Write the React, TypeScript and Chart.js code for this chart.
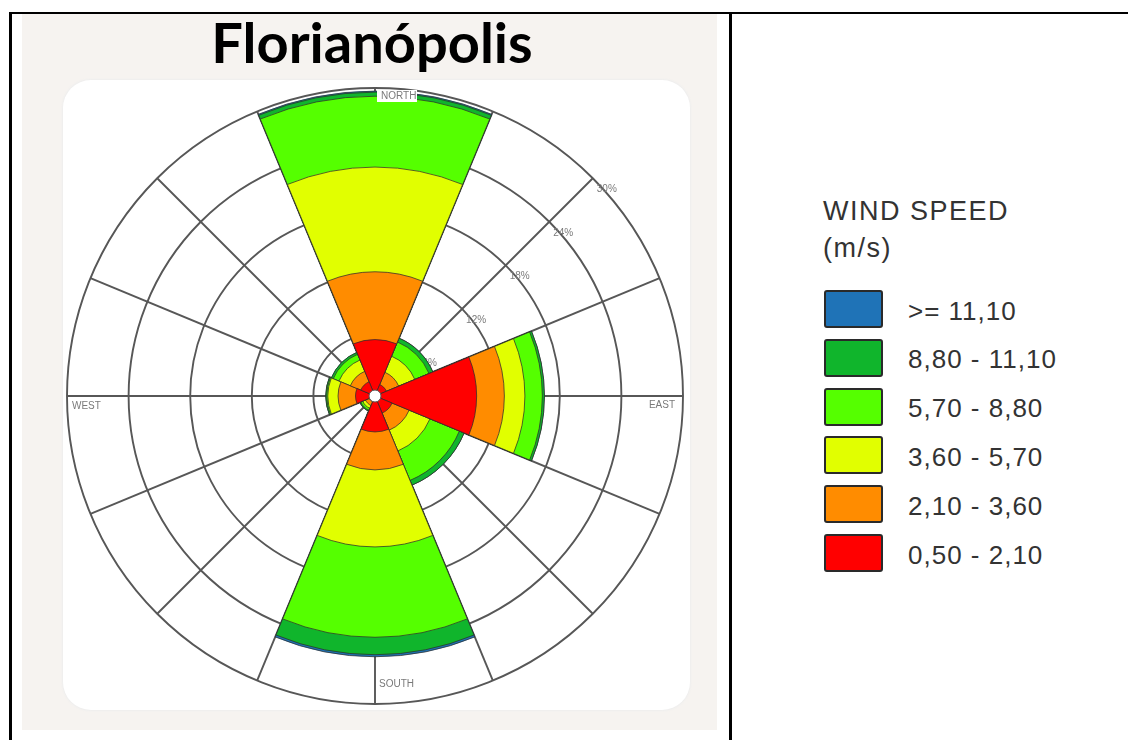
import React, { useEffect, useRef } from 'react';
import { Chart, registerables } from 'chart.js';

Chart.register(...registerables);

// ---- data ----
const directions = ['N', 'NE', 'E', 'SE', 'S', 'SW', 'W', 'NW'];
const speedClasses = ['0,50 - 2,10', '2,10 - 3,60', '3,60 - 5,70', '5,70 - 8,80', '8,80 - 11,10', '>= 11,10'];
const classColors = ['#ff0000', '#ff8c00', '#e1ff00', '#55ff00', '#10b52c', '#1f73b7'];

// frequency (%) of each speed class per direction
const freq050_210 = [5.5, 1.2, 9.9, 1.8, 3.5, 0.6, 1.9, 1.5];
const freq210_360 = [6.6, 1.3, 2.7, 1.8, 3.7, 0.4, 1.7, 1.1];
const freq360_570 = [10.2, 1.7, 2.0, 2.2, 7.5, 0.3, 1.0, 1.2];
const freq570_880 = [6.9, 1.5, 1.7, 3.1, 8.8, 0.2, 0.1, 0.6];
const freq880_1110 = [0.4, 0.4, 0.2, 0.5, 1.7, 0.1, 0.1, 0.2];
const freq1110_up = [0.1, 0, 0, 0, 0.2, 0, 0, 0];

const ringTicks = [6, 12, 18, 24, 30];
const compassNames = ['NORTH', 'EAST', 'SOUTH', 'WEST'];
const chartTitle = 'Florianópolis';
const legendTitle = ['WIND SPEED', '(m/s)'];

const bands = [freq050_210, freq210_360, freq360_570, freq570_880, freq880_1110, freq1110_up];

const GRID_COLOR = '#575757';
const GRID_WIDTH = 1.9;

const roseDecor = {
  id: 'roseDecor',
  beforeDatasetsDraw(chart: any) {
    const s = chart.scales.r;
    const ctx = chart.ctx;
    const xc = s.xCenter;
    const yc = s.yCenter;
    const R = s.getDistanceFromCenterForValue(ringTicks[ringTicks.length - 1]);
    ctx.save();
    ctx.strokeStyle = GRID_COLOR;
    ctx.lineWidth = GRID_WIDTH;
    for (let k = 0; k < 16; k++) {
      const a = ((k * 22.5 - 90) * Math.PI) / 180;
      ctx.beginPath();
      ctx.moveTo(xc, yc);
      ctx.lineTo(xc + R * Math.cos(a), yc + R * Math.sin(a));
      ctx.stroke();
    }
    ctx.fillStyle = '#7a7a7a';
    ctx.font = '10px "Liberation Sans", Arial, sans-serif';
    ctx.textBaseline = 'middle';
    ctx.textAlign = 'left';
    ringTicks.forEach((v) => {
      const r = s.getDistanceFromCenterForValue(v);
      const px = xc + r * Math.SQRT1_2;
      const py = yc - r * Math.SQRT1_2;
      ctx.fillText(v + '%', px + 4, py + 11);
    });
    ctx.restore();
  },
  afterDatasetsDraw(chart: any) {
    const s = chart.scales.r;
    const ctx = chart.ctx;
    const xc = s.xCenter;
    const yc = s.yCenter;
    const R = s.getDistanceFromCenterForValue(ringTicks[ringTicks.length - 1]);
    ctx.save();
    // calm hole
    ctx.beginPath();
    ctx.arc(xc, yc, 6, 0, Math.PI * 2);
    ctx.fillStyle = '#ffffff';
    ctx.fill();
    ctx.strokeStyle = '#555';
    ctx.lineWidth = 1;
    ctx.stroke();
    // compass labels
    ctx.font = '10px "Liberation Sans", Arial, sans-serif';
    ctx.textBaseline = 'middle';
    ctx.fillStyle = '#ffffff';
    ctx.fillRect(xc + 2, yc - R + 2, 40, 12);
    ctx.fillStyle = '#7a7a7a';
    ctx.textAlign = 'left';
    ctx.fillText(compassNames[0], xc + 6, yc - R + 8.5);
    ctx.textAlign = 'right';
    ctx.fillText(compassNames[1], xc + R - 8, yc + 9);
    ctx.textAlign = 'left';
    ctx.fillText(compassNames[2], xc + 4, yc + R - 20);
    ctx.fillText(compassNames[3], xc - R + 5, yc + 10);
    ctx.restore();
  },
};

function WindRose() {
  const ref = useRef<HTMLCanvasElement>(null);
  useEffect(() => {
    if (!ref.current) return;
    const cumulative = bands.map((_, i) =>
      directions.map((__, d) => {
        let sum = 0;
        for (let j = 0; j <= i; j++) sum += bands[j][d];
        return Math.round(sum * 100) / 100;
      })
    );
    const chart = new Chart(ref.current, {
      type: 'polarArea',
      data: {
        labels: directions,
        datasets: cumulative.map((data, i) => ({
          label: speedClasses[i],
          data,
          backgroundColor: classColors[i],
          borderColor: 'rgba(45,45,45,0.75)',
          borderWidth: 1,
        })),
      },
      options: {
        responsive: false,
        animation: false,
        layout: { padding: 2 },
        plugins: { legend: { display: false }, tooltip: { enabled: false } },
        scales: {
          r: {
            min: 0,
            max: ringTicks[ringTicks.length - 1],
            startAngle: -22.5,
            ticks: { display: false, stepSize: ringTicks[0] },
            grid: { circular: true, color: GRID_COLOR, lineWidth: GRID_WIDTH },
            angleLines: { display: false },
            pointLabels: { display: false },
          },
        },
      } as any,
      plugins: [roseDecor],
    });
    return () => chart.destroy();
  }, []);
  return (
    <canvas
      ref={ref}
      width={620}
      height={620}
      style={{ position: 'absolute', left: 65, top: 86, width: 620, height: 620 }}
    />
  );
}

export default function App() {
  const legendRows = speedClasses.map((s, i) => ({ label: s, color: classColors[i] })).reverse();
  return (
    <div
      style={{
        position: 'absolute',
        left: 0,
        top: 0,
        width: 1128,
        height: 740,
        overflow: 'hidden',
        background: '#ffffff',
      }}
    >
      {/* table borders */}
      <div style={{ position: 'absolute', left: 9, top: 12, width: 1119, height: 2, background: '#000' }} />
      <div style={{ position: 'absolute', left: 9, top: 12, width: 3, height: 728, background: '#000' }} />
      <div style={{ position: 'absolute', left: 729, top: 12, width: 3, height: 728, background: '#000' }} />
      {/* beige image panel */}
      <div style={{ position: 'absolute', left: 22, top: 14, width: 695, height: 716, background: '#f6f3f0' }} />
      <div
        style={{
          position: 'absolute',
          left: 63,
          top: 80,
          width: 627,
          height: 630,
          borderRadius: 28,
          background: '#ffffff',
          boxShadow: '0 0 2px 1px #eeeeee',
        }}
      />
      <div
        style={{
          position: 'absolute',
          left: 22,
          top: 14,
          width: 700,
          textAlign: 'center',
          fontFamily: 'Lato, "Open Sans", sans-serif',
          fontWeight: 700,
          fontSize: 56,
          lineHeight: '56px',
          color: '#000',
        }}
      >
        {chartTitle}
      </div>
      <WindRose />
      {/* legend */}
      <div
        style={{
          position: 'absolute',
          left: 823,
          top: 198,
          fontFamily: '"Liberation Sans", Arial, sans-serif',
          fontSize: 27,
          lineHeight: '27px',
          letterSpacing: 1.5,
          color: '#333',
          whiteSpace: 'nowrap',
        }}
      >
        {legendTitle[0]}
      </div>
      <div
        style={{
          position: 'absolute',
          left: 823,
          top: 235,
          fontFamily: '"Liberation Sans", Arial, sans-serif',
          fontSize: 27,
          lineHeight: '27px',
          letterSpacing: 1.5,
          color: '#333',
          whiteSpace: 'nowrap',
        }}
      >
        {legendTitle[1]}
      </div>
      {legendRows.map((row, i) => (
        <div
          key={row.label}
          style={{
            position: 'absolute',
            left: 824,
            top: 290 + i * 48.8,
            height: 38,
            display: 'flex',
            alignItems: 'center',
            whiteSpace: 'nowrap',
          }}
        >
          <div
            style={{
              width: 55,
              height: 34,
              background: row.color,
              border: '2px solid #2a2a2a',
              borderRadius: 3,
            }}
          />
          <div
            style={{
              marginLeft: 25,
              fontFamily: '"Liberation Sans", Arial, sans-serif',
              fontSize: 26,
              lineHeight: '38px',
              letterSpacing: 1,
              color: '#333',
              paddingTop: 3,
            }}
          >
            {row.label}
          </div>
        </div>
      ))}
    </div>
  );
}
